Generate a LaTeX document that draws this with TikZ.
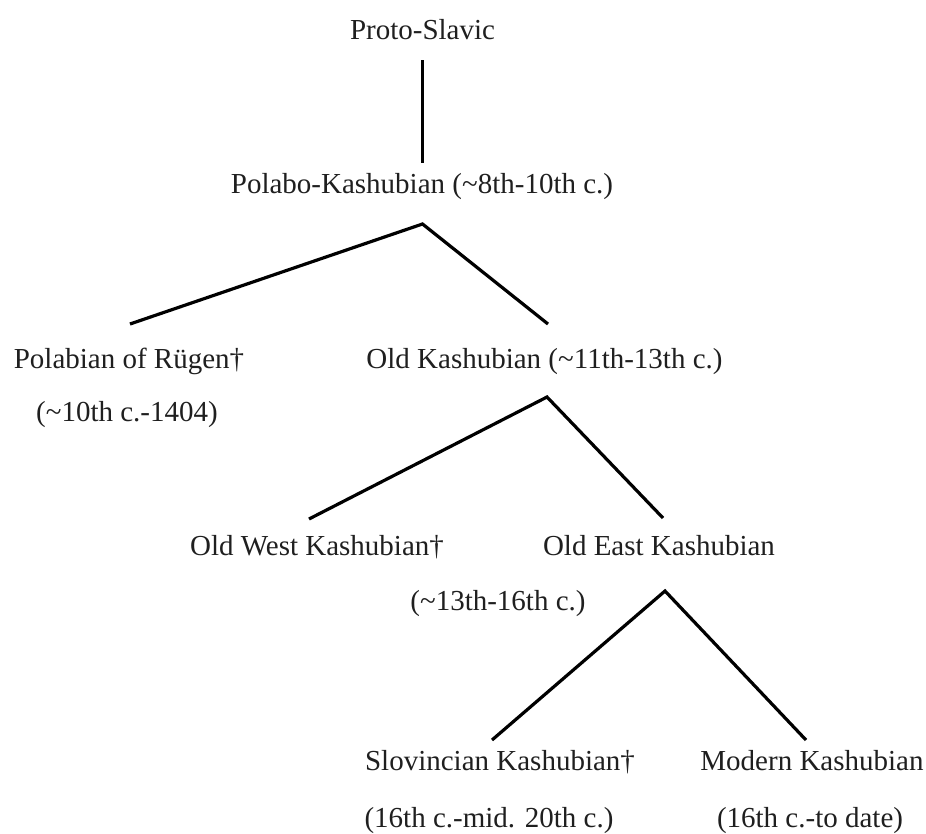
\documentclass[tikz,border=0pt]{standalone}
\usepackage{fontspec}
\setmainfont{Liberation Serif}

\begin{document}
\begin{tikzpicture}[x=1pt, y=-1pt,
        lang/.style={anchor=base, inner sep=0pt, font=\fontsize{29}{34}\selectfont, text=black!88},
        branch/.style={line width=3.2pt}]
        \useasboundingbox (0,0) rectangle (926,833);

        % Languages
        \node[lang] (ps) at (422.5,39) {Proto-Slavic};
        \node[lang] (pk) at (422,193) {Polabo-Kashubian (\textasciitilde8th-10th c.)};
        \node[lang] (pr) at (129,368) {Polabian of Rügen†};
        \node[lang] (pr-d) at (127,421) {(\textasciitilde10th c.-1404)};
        \node[lang] (ok) at (544.5,368) {Old Kashubian (\textasciitilde11th-13th c.)};
        \node[lang] (owk) at (317,555) {Old West Kashubian†};
        \node[lang] (oek) at (659,555) {Old East Kashubian};
        \node[lang] (oek-d) at (498,610) {(\textasciitilde13th-16th c.)};
        \node[lang] (sk) at (500,770) {Slovincian Kashubian†};
        \node[lang] (sk-d) at (489,827) {(16th c.-mid. 20th c.)};
        \node[lang] (mk) at (812,770) {Modern Kashubian};
        \node[lang] (mk-d) at (810,827) {(16th c.-to date)};

        % Branch ends
        \coordinate (ps-b) at (422.5,60);
        \coordinate (pk-t) at (422.5,163);
        \coordinate (pk-b) at (422.5,224);
        \coordinate (pr-t) at (130,324);
        \coordinate (ok-t) at (548,324);
        \coordinate (ok-b) at (547,397);
        \coordinate (owk-t) at (309,519);
        \coordinate (oek-t) at (663,518);
        \coordinate (oek-b) at (665,591);
        \coordinate (sk-t) at (492,740);
        \coordinate (mk-t) at (806,740);

        % Branches
        \draw[branch] (ps-b) -- (pk-t);
        \draw[branch] (pr-t) -- (pk-b) -- (ok-t);
        \draw[branch] (owk-t) -- (ok-b) -- (oek-t);
        \draw[branch] (sk-t) -- (oek-b) -- (mk-t);
    \end{tikzpicture}
\end{document}
